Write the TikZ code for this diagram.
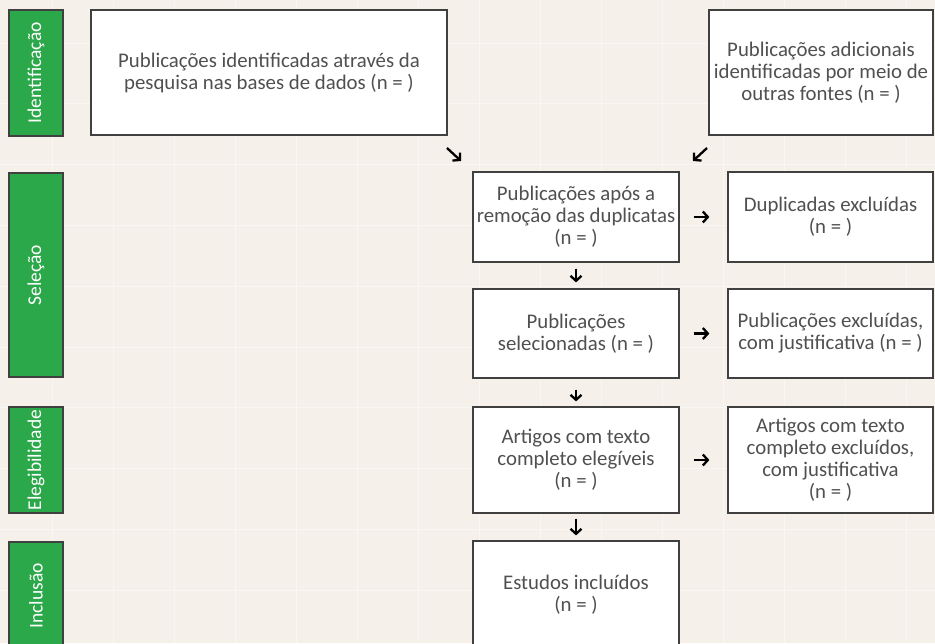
\documentclass[tikz,border=0pt]{standalone}
\usepackage{fontspec}
\setmainfont{Carlito}
\usepackage{tikz}
\usetikzlibrary{arrows.meta, positioning}
\usepackage{xcolor}
\definecolor{paper}{RGB}{246,240,234}
\definecolor{gridline}{RGB}{250,246,242}
\definecolor{phasegreen}{RGB}{43,168,74}
\definecolor{boxline}{RGB}{64,64,64}
\definecolor{boxtext}{RGB}{80,80,80}

\begin{document}
\begin{tikzpicture}
  [x=1pt, y=-1pt,
  phase/.style={rectangle, draw=boxline, fill=phasegreen, line width=1.2pt, rotate=90, text=white, minimum height=54pt, inner sep=0pt, font=\fontsize{19.5}{21}\selectfont},
  stage/.style={rectangle, draw=boxline, fill=white, line width=1.2pt, text=boxtext, align=center, inner sep=1pt, font=\fontsize{20.8}{22}\selectfont},
  flow/.style={black, line width=2.3pt, -{Straight Barb[length=5pt, width=11pt]}}]

% Background and faint grid
\useasboundingbox (0,0) rectangle (935,643);
\fill[paper] (0,0) rectangle (935,643);
\foreach \gx in {0,...,14}
  \draw[gridline, line width=1pt] (52+61*\gx,0) -- (52+61*\gx,643);
\foreach \gy in {-1,0,...,9}
  \draw[gridline, line width=1pt] (0,43+60.8*\gy) -- (935,43+60.8*\gy);

% Phase labels on the left
\node[phase, minimum width=126pt] (ident) at (36, 73) {Identificação};
\node[phase, minimum width=204pt] (selec) at (36, 275) {Seleção};
\node[phase, minimum width=106pt] (elig) at (36, 460) {Elegibilidade};
\node[phase, minimum width=108pt] (incl) at (36, 596) {Inclusão};

% Boxes of the flow
\node[stage, minimum width=356pt, minimum height=125pt] (pubdb) at (269, 72.5) {Publicações identificadas através da\\pesquisa nas bases de dados (n = )};
\node[stage, minimum width=224pt, minimum height=125pt] (pubext) at (821, 72.5) {Publicações adicionais\\identificadas por meio de\\outras fontes (n = )};
\node[stage, minimum width=206pt, minimum height=90pt] (pubdup) at (576, 217) {Publicações após a\\remoção das duplicatas\\(n = )};
\node[stage, minimum width=205pt, minimum height=90pt] (dupexc) at (830.5, 217) {Duplicadas excluídas\\(n = )};
\node[stage, minimum width=206pt, minimum height=89pt] (pubsel) at (576, 333.5) {Publicações\\selecionadas (n = )};
\node[stage, minimum width=205pt, minimum height=89pt] (pubexc) at (830.5, 333.5) {Publicações excluídas,\\com justificativa (n = )};
\node[stage, minimum width=206pt, minimum height=106pt] (artel) at (576, 460) {Artigos com texto\\completo elegíveis\\(n = )};
\node[stage, minimum width=205pt, minimum height=106pt] (artexc) at (830.5, 460) {Artigos com texto\\completo excluídos,\\com justificativa\\(n = )};
\node[stage, minimum width=206pt, minimum height=108pt] (estinc) at (576, 595) {Estudos incluídos\\(n = )};

% Arrows from the two sources
\coordinate (dbS) at (447, 148);
\coordinate (dbE) at (461, 161);
\coordinate (extS) at (707, 148);
\coordinate (extE) at (693, 161);
\draw[flow] (dbS) -- (dbE);
\draw[flow] (extS) -- (extE);

% Arrows down the main column
\draw[flow, shorten <=6pt, shorten >=6pt] (pubdup) -- (pubsel);
\draw[flow, shorten <=11pt, shorten >=5pt] (pubsel) -- (artel);
\draw[flow, shorten <=5pt, shorten >=5pt] (artel) -- (estinc);
% Arrows to the excluded boxes
\draw[flow, shorten <=14pt, shorten >=18pt] (pubdup) -- (dupexc);
\draw[flow, shorten <=14pt, shorten >=18pt] (pubsel) -- (pubexc);
\draw[flow, shorten <=14pt, shorten >=18pt] (artel) -- (artexc);

\end{tikzpicture}
\end{document}
